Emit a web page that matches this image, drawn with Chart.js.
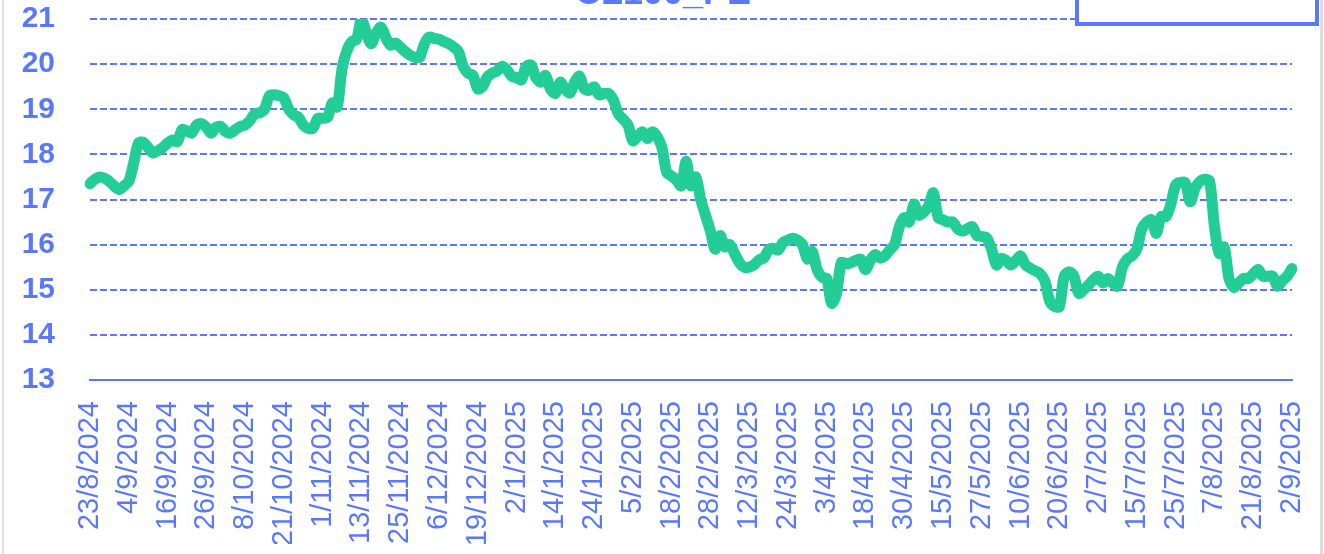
<!DOCTYPE html>
<html>
<head>
<meta charset="utf-8">
<script src="https://cdn.jsdelivr.net/npm/chart.js@4"></script>
<style>
  html, body { margin: 0; padding: 0; background: #fff; overflow: hidden; }
  #wrap { position: relative; width: 1324px; height: 554px; }
  #card { position: absolute; left: 2px; top: -10px; width: 1316px; height: 580px;
          border-left: 2px solid #e0e0e0; border-right: 3px solid #dcdcdc; }
  #legendBox { position: absolute; left: 1075px; top: -42px; width: 236px; height: 60px;
               border: 4px solid #5a78fa; background: #fff; }
  canvas { position: absolute; left: 0; top: 0; }
</style>
</head>
<body>
<div id="wrap">
  <div id="card"></div>
  <canvas id="peChart" width="1324" height="554"></canvas>
  <div id="legendBox"></div>
</div>
<script>
let chartTitle = 'CL100_PE';

let tickLabels = ['23/8/2024', '4/9/2024', '16/9/2024', '26/9/2024', '8/10/2024', '21/10/2024',
  '1/11/2024', '13/11/2024', '25/11/2024', '6/12/2024', '19/12/2024', '2/1/2025', '14/1/2025',
  '24/1/2025', '5/2/2025', '18/2/2025', '28/2/2025', '12/3/2025', '24/3/2025', '3/4/2025',
  '18/4/2025', '30/4/2025', '15/5/2025', '27/5/2025', '10/6/2025', '20/6/2025', '2/7/2025',
  '15/7/2025', '25/7/2025', '7/8/2025', '21/8/2025', '2/9/2025'];

// one tick label every 8 sessions
let labelStep = 8;

let peValues = [
  17.35, 17.45, 17.50, 17.47, 17.40, 17.30, 17.22, 17.30, 17.40, 17.80,
  18.25, 18.27, 18.15, 18.03, 18.08, 18.15, 18.25, 18.32, 18.28, 18.55,
  18.52, 18.47, 18.65, 18.68, 18.60, 18.47, 18.60, 18.62, 18.50, 18.47,
  18.55, 18.62, 18.65, 18.75, 18.90, 18.92, 19.00, 19.30, 19.32, 19.30,
  19.25, 19.00, 18.88, 18.82, 18.65, 18.58, 18.58, 18.80, 18.80, 18.82,
  19.14, 19.05, 19.90, 20.30, 20.50, 20.55, 21.00, 20.70, 20.45, 20.68,
  20.82, 20.60, 20.42, 20.47, 20.38, 20.28, 20.20, 20.15, 20.15, 20.45,
  20.60, 20.57, 20.55, 20.50, 20.45, 20.38, 20.28, 19.95, 19.80, 19.75,
  19.45, 19.50, 19.72, 19.80, 19.85, 19.95, 19.88, 19.73, 19.70, 19.65,
  19.95, 19.98, 19.70, 19.60, 19.75, 19.45, 19.35, 19.60, 19.45, 19.36,
  19.60, 19.73, 19.45, 19.42, 19.50, 19.32, 19.35, 19.35, 19.20, 18.90,
  18.78, 18.65, 18.30, 18.40, 18.50, 18.35, 18.50, 18.40, 18.15, 17.60,
  17.52, 17.43, 17.30, 17.85, 17.30, 17.50, 17.00, 16.65, 16.30, 15.90,
  16.20, 15.95, 16.00, 15.80, 15.60, 15.50, 15.50, 15.55, 15.66, 15.70,
  15.88, 15.92, 15.88, 16.05, 16.10, 16.14, 16.10, 16.00, 15.68, 15.85,
  15.45, 15.28, 15.25, 14.70, 14.90, 15.60, 15.58, 15.60, 15.65, 15.68,
  15.45, 15.65, 15.78, 15.70, 15.75, 15.88, 16.00, 16.40, 16.60, 16.50,
  16.90, 16.65, 16.72, 16.85, 17.15, 16.60, 16.55, 16.50, 16.50, 16.35,
  16.30, 16.35, 16.40, 16.20, 16.18, 16.15, 15.90, 15.55, 15.70, 15.65,
  15.55, 15.65, 15.75, 15.55, 15.48, 15.42, 15.36, 15.20, 14.75, 14.63,
  14.63, 15.30, 15.40, 15.30, 14.92, 15.00, 15.10, 15.22, 15.30, 15.15,
  15.25, 15.15, 15.08, 15.50, 15.68, 15.75, 15.90, 16.35, 16.50, 16.55,
  16.25, 16.62, 16.62, 16.90, 17.32, 17.38, 17.36, 16.95, 17.25, 17.40,
  17.45, 17.40, 16.40, 15.80, 15.95, 15.25, 15.05, 15.15, 15.25, 15.25,
  15.35, 15.45, 15.30, 15.30, 15.30, 15.08, 15.20, 15.30, 15.47
];

let yMin = 13;
let yMax = 21;

let blue = '#5a78fa';
let green = '#23cd96';
let fontFamily = '"Liberation Sans", Arial, sans-serif';

let categories = peValues.map(function (v, i) {
  return i % labelStep === 0 ? tickLabels[i / labelStep] : '';
});

// title sits mostly above the visible area, only its lower edge shows
let titlePlugin = {
  id: 'cutTitle',
  afterDraw: function (chart) {
    let c = chart.ctx;
    c.save();
    c.fillStyle = blue;
    c.font = 'bold 36px ' + fontFamily;
    c.textAlign = 'center';
    c.textBaseline = 'alphabetic';
    c.fillText(chartTitle, 663, 4);
    c.restore();
  }
};

let ctx = document.getElementById('peChart').getContext('2d');
let peChart = new Chart(ctx, {
  type: 'line',
  data: {
    labels: categories,
    datasets: [{
      label: chartTitle,
      data: peValues,
      borderColor: green,
      backgroundColor: green,
      borderWidth: 11,
      pointRadius: 0,
      tension: 0.3,
      borderJoinStyle: 'round',
      borderCapStyle: 'round',
      fill: false
    }]
  },
  options: {
    responsive: false,
    animation: false,
    devicePixelRatio: 1,
    layout: { padding: { left: 22, right: 32, top: 19, bottom: 10 } },
    plugins: {
      legend: { display: false },
      title: { display: false },
      tooltip: { enabled: false }
    },
    scales: {
      x: {
        grid: { display: false, drawTicks: false },
        border: { display: true, color: blue, width: 2 },
        ticks: {
          color: blue,
          font: { family: fontFamily, size: 29 },
          autoSkip: false,
          maxRotation: 90,
          minRotation: 90,
          padding: 21
        },
        afterFit: function (scale) {
          scale.height = 164;
          scale.paddingLeft = 0;
          scale.paddingRight = 0;
        }
      },
      y: {
        min: yMin,
        max: yMax,
        grid: { color: blue, lineWidth: 2, drawTicks: false },
        border: { display: false, dash: [7, 3] },
        ticks: {
          stepSize: 1,
          autoSkip: false,
          color: blue,
          font: { family: fontFamily, size: 30, weight: 'bold' },
          padding: 35
        },
        afterFit: function (scale) {
          scale.width = 68;
          scale.paddingTop = 0;
          scale.paddingBottom = 0;
        }
      }
    }
  },
  plugins: [titlePlugin]
});
</script>
</body>
</html>
